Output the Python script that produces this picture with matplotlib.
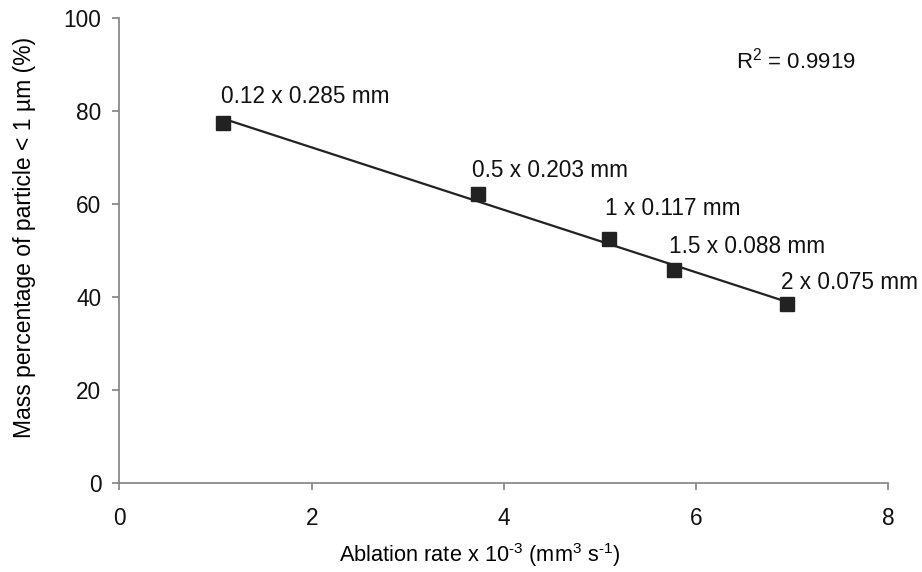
import matplotlib
matplotlib.use("Agg")
import matplotlib.pyplot as plt
import numpy as np

plt.rcParams["font.family"] = ["Liberation Sans", "DejaVu Sans"]
plt.rcParams["mathtext.fontset"] = "custom"
plt.rcParams["mathtext.rm"] = "Liberation Sans"
plt.rcParams["mathtext.it"] = "Liberation Sans"

# data
ablation_rate = [1.08, 3.73, 5.09, 5.77, 6.94]
mass_pct = [77.4, 62.1, 52.4, 45.7, 38.5]
labels = ["0.12 x 0.285 mm", "0.5 x 0.203 mm", "1 x 0.117 mm",
          "1.5 x 0.088 mm", "2 x 0.075 mm"]
r_squared = "0.9919"

# label offsets in points (layout only)
offsets = [(-2, 11), (-4, 9), (-3, 14), (-4, 9), (-4, 7)]

fig = plt.figure(figsize=(9.22, 5.72), dpi=100)
ax = fig.add_axes([0.1296, 0.1556, 0.834, 0.813])

# linear trend line fitted on the points
slope, icpt = np.polyfit(ablation_rate, mass_pct, 1)
xfit = np.array([min(ablation_rate), max(ablation_rate)])
ax.plot(xfit, slope * xfit + icpt, color="#222222", lw=1.6, zorder=2)
ax.plot(ablation_rate, mass_pct, ls="none", marker="s", ms=10,
        color="#222222", zorder=3)

for x, y, lab, off in zip(ablation_rate, mass_pct, labels, offsets):
    ax.annotate(lab, (x, y), xytext=off, textcoords="offset points",
                ha="left", va="bottom", fontsize=16.3, color="#111111")

ax.text(0.802, 0.892, r"R$^2$ = " + r_squared, transform=ax.transAxes,
        ha="left", va="baseline", fontsize=16, color="#111111")

ax.set_xlim(0, 8)
ax.set_ylim(0, 100)
ax.set_xticks([0, 2, 4, 6, 8])
ax.set_yticks([0, 20, 40, 60, 80, 100])

ax.set_xlabel(r"Ablation rate x 10$^{\text{-3}}$ (mm$^{\text{3}}$ s$^{\text{-1}}$)",
              fontsize=15.7)
ax.set_ylabel("Mass percentage of particle < 1 \u00b5m (%)", fontsize=16.5)
ax.xaxis.set_label_coords(0.469, -0.125)
ax.yaxis.set_label_coords(-0.109, 0.528)

for s in ["top", "right"]:
    ax.spines[s].set_visible(False)
for s in ["left", "bottom"]:
    ax.spines[s].set_color("#808080")
    ax.spines[s].set_linewidth(1.2)
ax.tick_params(direction="out", length=5, width=1.2, color="#808080",
               labelsize=16.3, labelcolor="#111111")
ax.tick_params(axis="y", pad=8)
ax.tick_params(axis="x", pad=12)

fig.savefig("out.png", dpi=100)
